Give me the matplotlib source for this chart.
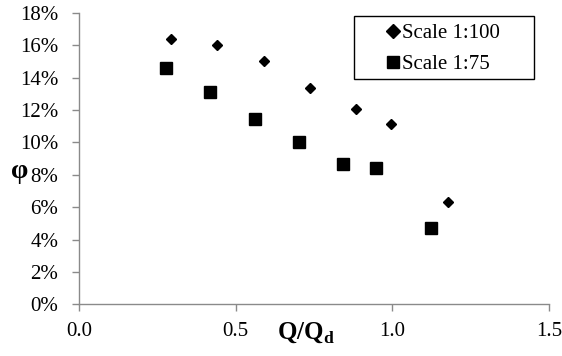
import matplotlib
matplotlib.use("Agg")
import matplotlib.pyplot as plt
from matplotlib.ticker import FuncFormatter
from matplotlib.patches import Rectangle

plt.rcParams['font.family'] = ['Liberation Serif', 'DejaVu Serif']
plt.rcParams['mathtext.fontset'] = 'custom'
plt.rcParams['mathtext.rm'] = 'Liberation Serif'
plt.rcParams['mathtext.bf'] = 'Liberation Serif:bold'

x_100 = [0.295, 0.442, 0.589, 0.736, 0.884, 0.997, 1.179]
y_100 = [0.1641, 0.1600, 0.1506, 0.1335, 0.1207, 0.1114, 0.0634]
x_75 = [0.278, 0.419, 0.562, 0.702, 0.842, 0.948, 1.124]
y_75 = [0.1462, 0.1312, 0.1145, 0.1005, 0.0867, 0.0840, 0.0470]
labels = ["Scale 1:100", "Scale 1:75"]

W, H = 562, 356
fig = plt.figure(figsize=(W/100, H/100), dpi=100)
ax = fig.add_axes([79/W, 1-304.3/H, (549-79)/W, (304.3-13)/H])

ax.plot(x_100, y_100, linestyle='none', marker='D', color='black', markersize=5.5, label=labels[0])
ax.plot(x_75, y_75, linestyle='none', marker='s', color='black', markersize=8.3, label=labels[1])

ax.set_xlim(0, 1.5)
ax.set_ylim(0, 0.18)
ax.set_xticks([0, 0.5, 1.0, 1.5])
ax.set_yticks([i/100 for i in range(0, 19, 2)])
ax.xaxis.set_major_formatter(FuncFormatter(lambda v, p: f"{v:.1f}"))
ax.yaxis.set_major_formatter(FuncFormatter(lambda v, p: f"{v*100:.0f}%"))

gray = '#8a8a8a'
for s in ['top', 'right']:
    ax.spines[s].set_visible(False)
for s in ['left', 'bottom']:
    ax.spines[s].set_color(gray)
    ax.spines[s].set_linewidth(1.0)
ax.tick_params(axis='both', colors=gray, labelcolor='black', labelsize=15, length=5, width=1.0, direction='out')
ax.tick_params(axis='y', pad=10)
ax.tick_params(axis='x', pad=8)

fig.text(306/W, 1-333/H, r"Q/Q$_\mathbf{d}$", ha='center', va='center', fontsize=18, fontweight='bold')
fig.text(20/W, 1-171/H, "φ", ha='center', va='center', fontsize=20, fontweight='bold')

leg = ax.legend(loc='upper left', bbox_to_anchor=(387/W, 1-23.5/H), bbox_transform=fig.transFigure,
                frameon=False, fontsize=15, handlelength=0.6, handletextpad=0.12,
                borderpad=0, labelspacing=0.55, borderaxespad=0)
leg.legend_handles[0].set_markersize(6.8)
leg.legend_handles[1].set_markersize(8.8)
fig.patches.append(Rectangle((354/W, 1-79.3/H), (534-354)/W, (79.3-15.7)/H,
                             transform=fig.transFigure, fill=False, edgecolor='black', linewidth=1.0))

fig.savefig("out.png", dpi=100)
